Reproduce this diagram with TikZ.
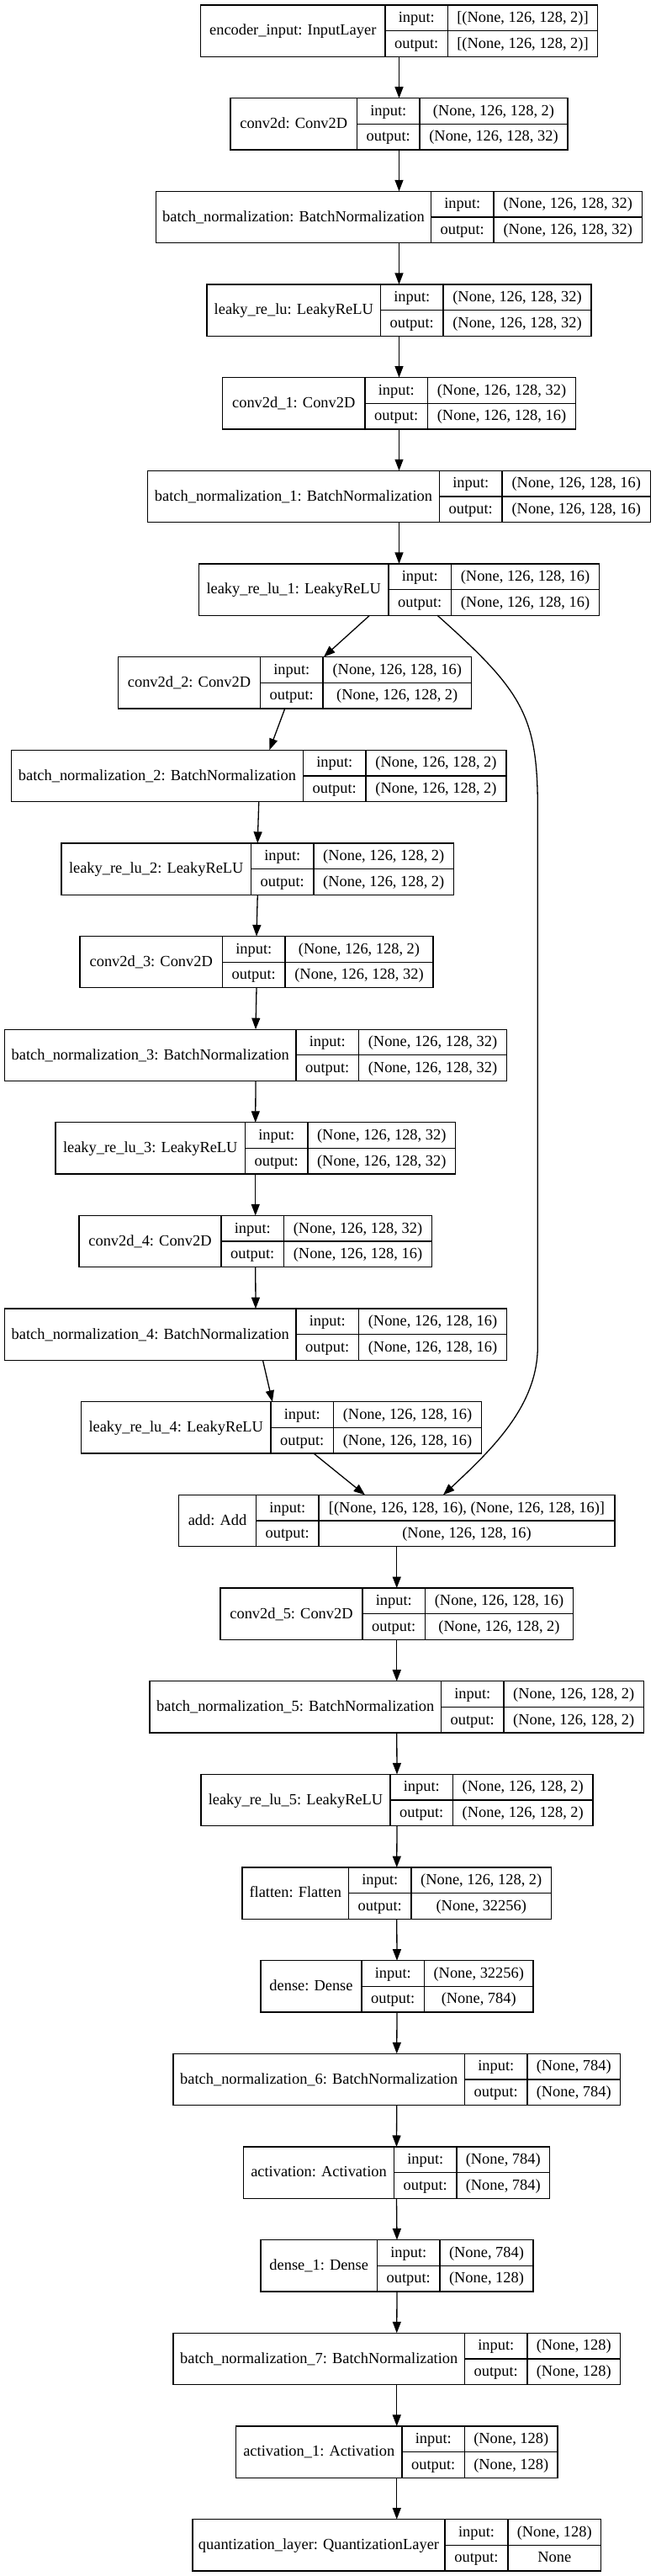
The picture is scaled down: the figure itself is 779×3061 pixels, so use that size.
\documentclass[tikz,border=0pt]{standalone}
\usepackage{fontspec}
\setmainfont{Liberation Serif}
\usetikzlibrary{arrows.meta}

% one layer record: name | input/output | shapes
\newcommand{\layer}[9]{%
	\pgfmathsetmacro{\lyrtop}{6+#2*110.65}%
	\pgfmathsetmacro{\lyrbot}{\lyrtop+61.3}%
	\pgfmathsetmacro{\lyrmid}{\lyrtop+30.65}%
	\node[layerbox, minimum width={(#6-#3)*1pt}] (#1) at (#3,\lyrtop) {};%
	\draw[cell] (#4,\lyrtop) -- (#4,\lyrbot) (#5,\lyrtop) -- (#5,\lyrbot) (#4,\lyrmid) -- (#6,\lyrmid);%
	\node[lbl] (#1-name) at ({(#3+#4)/2},\lyrtop+35.95) {#7};%
	\node[lbl] (#1-inkey) at ({(#4+#5)/2},\lyrtop+20.6) {input:};%
	\node[lbl] (#1-inval) at ({(#5+#6)/2},\lyrtop+20.6) {#8};%
	\node[lbl] (#1-outkey) at ({(#4+#5)/2},\lyrtop+51.3) {output:};%
	\node[lbl] (#1-outval) at ({(#5+#6)/2},\lyrtop+51.3) {#9};%
}

\begin{document}
\begin{tikzpicture}[x=1pt, y=-1pt,
		layerbox/.style={draw, line width=1.3pt, inner sep=0pt, outer sep=0pt, minimum height=61.3pt, anchor=north west},
		cell/.style={line width=1.3pt},
		lbl/.style={anchor=base, inner sep=0pt, font=\fontsize{18.4}{20}\selectfont},
		edge/.style={line width=1.3pt, -{Triangle[length=13.5pt, width=10pt]}}]
	\useasboundingbox (0,0) rectangle (779,3061);

	% Encoder stem
	\layer{enc}{0}{238.5}{458}{532.5}{710.5}{encoder\_input: InputLayer}{[(None, 126, 128, 2)]}{[(None, 126, 128, 2)]}
	\layer{conv}{1}{274}{424.5}{499}{675}{conv2d: Conv2D}{(None, 126, 128, 2)}{(None, 126, 128, 32)}
	\layer{bn}{2}{185.5}{512.5}{587}{763.5}{batch\_normalization: BatchNormalization}{(None, 126, 128, 32)}{(None, 126, 128, 32)}
	\layer{lrelu}{3}{246}{452.5}{527}{703}{leaky\_re\_lu: LeakyReLU}{(None, 126, 128, 32)}{(None, 126, 128, 32)}
	\layer{conva}{4}{264.5}{434}{508.5}{684.5}{conv2d\_1: Conv2D}{(None, 126, 128, 32)}{(None, 126, 128, 16)}
	\layer{bna}{5}{175.5}{522.5}{597}{773.5}{batch\_normalization\_1: BatchNormalization}{(None, 126, 128, 16)}{(None, 126, 128, 16)}
	\layer{lrelua}{6}{236.5}{462}{536.5}{712.5}{leaky\_re\_lu\_1: LeakyReLU}{(None, 126, 128, 16)}{(None, 126, 128, 16)}

	% Residual branch
	\layer{convb}{7}{140.5}{309.5}{384}{560.5}{conv2d\_2: Conv2D}{(None, 126, 128, 16)}{(None, 126, 128, 2)}
	\layer{bnb}{8}{13.5}{360.5}{435}{602}{batch\_normalization\_2: BatchNormalization}{(None, 126, 128, 2)}{(None, 126, 128, 2)}
	\layer{lrelub}{9}{73}{298.5}{373}{539.5}{leaky\_re\_lu\_2: LeakyReLU}{(None, 126, 128, 2)}{(None, 126, 128, 2)}
	\layer{convc}{10}{95}{264.5}{339}{515}{conv2d\_3: Conv2D}{(None, 126, 128, 2)}{(None, 126, 128, 32)}
	\layer{bnc}{11}{5.5}{352}{426.5}{602.5}{batch\_normalization\_3: BatchNormalization}{(None, 126, 128, 32)}{(None, 126, 128, 32)}
	\layer{lreluc}{12}{66}{291.5}{366}{541.5}{leaky\_re\_lu\_3: LeakyReLU}{(None, 126, 128, 32)}{(None, 126, 128, 32)}
	\layer{convd}{13}{94}{263}{337.5}{513.5}{conv2d\_4: Conv2D}{(None, 126, 128, 32)}{(None, 126, 128, 16)}
	\layer{bnd}{14}{5.5}{352}{426.5}{602.5}{batch\_normalization\_4: BatchNormalization}{(None, 126, 128, 16)}{(None, 126, 128, 16)}
	\layer{lrelud}{15}{96.5}{322}{396.5}{572.5}{leaky\_re\_lu\_4: LeakyReLU}{(None, 126, 128, 16)}{(None, 126, 128, 16)}

	% Merge and dense head
	\layer{add}{16}{212.5}{304.5}{379}{731}{add: Add}{[(None, 126, 128, 16), (None, 126, 128, 16)]}{(None, 126, 128, 16)}
	\layer{conve}{17}{262}{431}{505.5}{681.5}{conv2d\_5: Conv2D}{(None, 126, 128, 16)}{(None, 126, 128, 2)}
	\layer{bne}{18}{178}{524.5}{599}{765.5}{batch\_normalization\_5: BatchNormalization}{(None, 126, 128, 2)}{(None, 126, 128, 2)}
	\layer{lrelue}{19}{239}{464}{538.5}{705}{leaky\_re\_lu\_5: LeakyReLU}{(None, 126, 128, 2)}{(None, 126, 128, 2)}
	\layer{flat}{20}{288}{414.5}{489}{655.5}{flatten: Flatten}{(None, 126, 128, 2)}{(None, 32256)}
	\layer{dense}{21}{310}{430}{504.5}{634}{dense: Dense}{(None, 32256)}{(None, 784)}
	\layer{bnf}{22}{206}{552.5}{627}{737.5}{batch\_normalization\_6: BatchNormalization}{(None, 784)}{(None, 784)}
	\layer{act}{23}{289.5}{468.5}{543}{653.5}{activation: Activation}{(None, 784)}{(None, 784)}
	\layer{densea}{24}{310}{448.5}{523}{634}{dense\_1: Dense}{(None, 784)}{(None, 128)}
	\layer{bng}{25}{206}{552.5}{627}{737.5}{batch\_normalization\_7: BatchNormalization}{(None, 128)}{(None, 128)}
	\layer{acta}{26}{280.5}{478}{552.5}{663}{activation\_1: Activation}{(None, 128)}{(None, 128)}
	\layer{quant}{27}{229}{529}{604}{714.5}{quantization\_layer: QuantizationLayer}{(None, 128)}{None}

	% Straight connections
	\draw[edge] (enc.south) -- (conv.north);
	\draw[edge] (conv.south) -- (bn.north);
	\draw[edge] (bn.south) -- (lrelu.north);
	\draw[edge] (lrelu.south) -- (conva.north);
	\draw[edge] (conva.south) -- (bna.north);
	\draw[edge] (bna.south) -- (lrelua.north);
	\draw[edge] ([xshift=-34.9pt]lrelua.south) -- ([xshift=34.5pt]convb.north);
	\draw[edge] ([xshift=-11.7pt]convb.south) -- ([xshift=12.65pt]bnb.north);
	\draw[edge] (bnb.south) -- (lrelub.north);
	\draw[edge] (lrelub.south) -- (convc.north);
	\draw[edge] (convc.south) -- (bnc.north);
	\draw[edge] (bnc.south) -- (lreluc.north);
	\draw[edge] (lreluc.south) -- (convd.north);
	\draw[edge] (convd.south) -- (bnd.north);
	\draw[edge] ([xshift=8.5pt]bnd.south) -- ([xshift=-10.6pt]lrelud.north);
	\draw[edge] ([xshift=38.5pt]lrelud.south) -- ([xshift=-37.75pt]add.north);
	\draw[edge] (add.south) -- (conve.north);
	\draw[edge] (conve.south) -- (bne.north);
	\draw[edge] (bne.south) -- (lrelue.north);
	\draw[edge] (lrelue.south) -- (flat.north);
	\draw[edge] (flat.south) -- (dense.north);
	\draw[edge] (dense.south) -- (bnf.north);
	\draw[edge] (bnf.south) -- (act.north);
	\draw[edge] (act.south) -- (densea.north);
	\draw[edge] (densea.south) -- (bng.north);
	\draw[edge] (bng.south) -- (acta.north);
	\draw[edge] (acta.south) -- (quant.north);

	% Skip connection round the branch
	\draw[edge] ([xshift=45.5pt]lrelua.south) .. controls (620.8,821) and (639.3,850) .. (639.3,960)
		-- (639.3,1600) .. controls (639.3,1670) and (585.6,1721.7) .. ([xshift=55.25pt]add.north);
\end{tikzpicture}
\end{document}
